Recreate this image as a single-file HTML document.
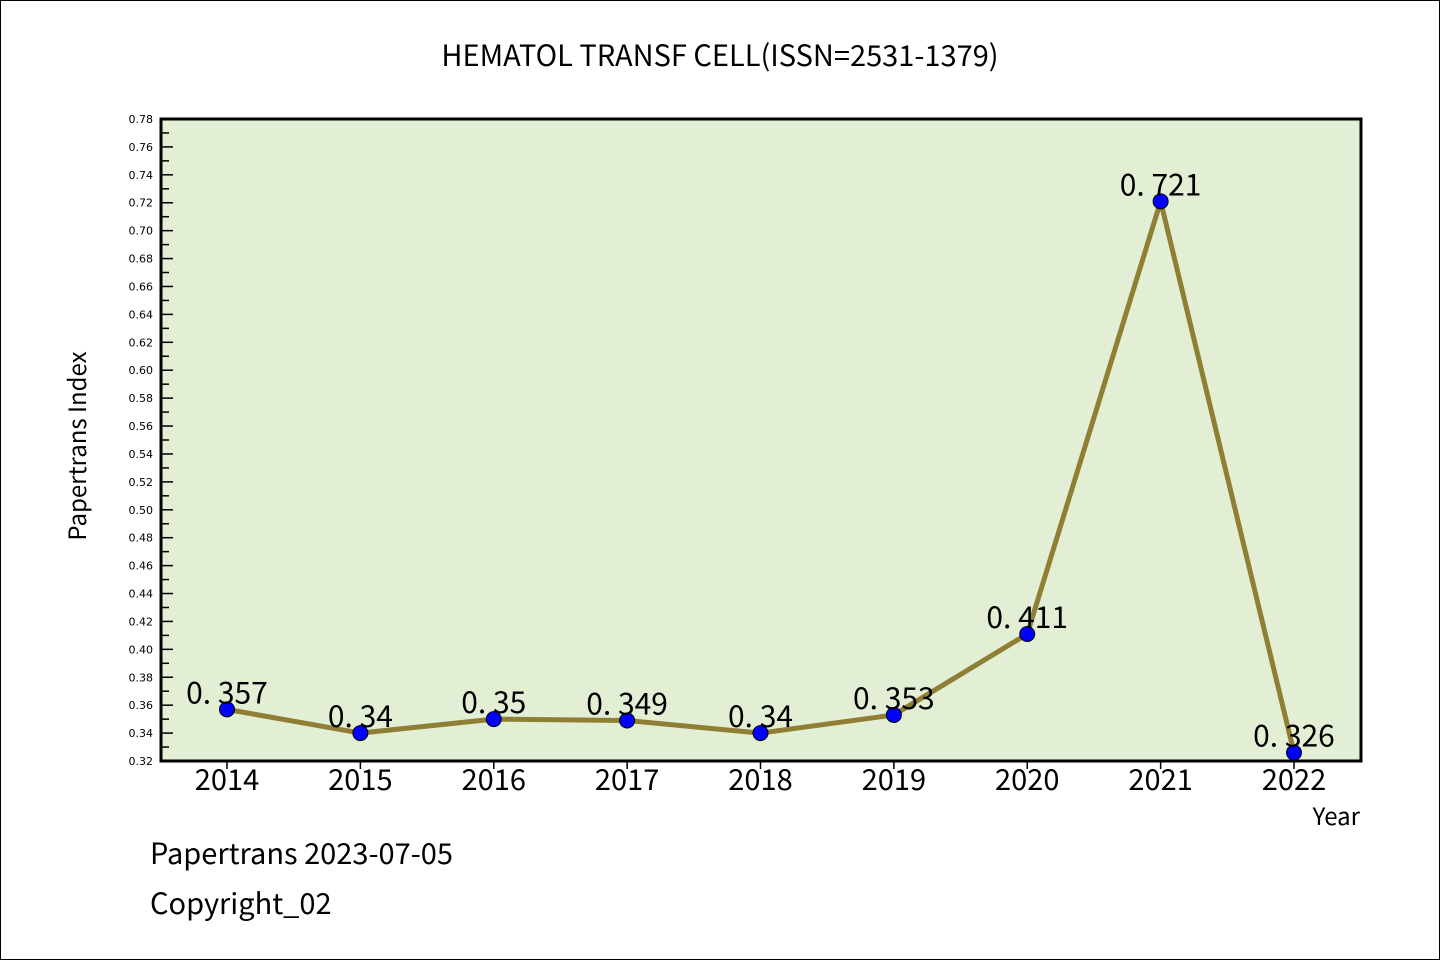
<!DOCTYPE html>
<html><head><meta charset="utf-8"><style>
body{margin:0;background:#fff}
svg text{font-family:"WenQuanYi Zen Hei","Noto Sans CJK SC",sans-serif}
</style></head><body>
<svg id="chart" width="1440" height="960" xmlns="http://www.w3.org/2000/svg">
<rect x="0.5" y="0.5" width="1439" height="959" fill="#fff" stroke="#000"/>
<text x="720" y="66" font-size="29" text-anchor="middle">HEMATOL TRANSF CELL(ISSN=2531-1379)</text>
<rect x="161" y="119" width="1200" height="642" fill="#e2efd5"/>
<g id="axes"></g>
<g id="series"></g>
<rect x="161" y="119" width="1200" height="642" fill="none" stroke="#000" stroke-width="3"/>
<text x="86" y="446" font-size="24" text-anchor="middle" transform="rotate(-90 86 446)">Papertrans Index</text>
<text x="1360" y="825" font-size="24" text-anchor="end">Year</text>
<text x="150" y="864" font-size="29">Papertrans 2023-07-05</text>
<text x="150" y="914" font-size="29">Copyright_02</text>
</svg>
<script>
const years=["2014","2015","2016","2017","2018","2019","2020","2021","2022"];
const values=[0.357,0.34,0.35,0.349,0.34,0.353,0.411,0.721,0.326];
const valueLabels=["0.357","0.34","0.35","0.349","0.34","0.353","0.411","0.721","0.326"];
const yMin=0.32,yMax=0.78;
const NS="http://www.w3.org/2000/svg";
const X0=161,X1=1361,Y0=119,Y1=761;
function xs(i){return 227+i*(1294-227)/(years.length-1);}
function ys(v){return Y1-(v-yMin)/(yMax-yMin)*(Y1-Y0);}
function mk(t,a,p){const e=document.createElementNS(NS,t);for(const k in a)e.setAttribute(k,a[k]);p.appendChild(e);return e;}
const ax=document.getElementById('axes');
for(let k=0;k<=Math.round((yMax-yMin)/0.01);k++){
  const v=yMin+k*0.01,y=ys(v),major=k%2===0;
  const l=mk('line',{x1:X0,x2:X0+(major?12:8),y1:y,y2:y,stroke:'#000','stroke-width':1.5},ax);
  
  
  if(major){const t=mk('text',{x:X0-8,y:y+4,'font-size':11,'text-anchor':'end',style:'font-family:"DejaVu Sans",sans-serif'},ax);t.textContent=v.toFixed(2);
  
  }
}
years.forEach((yr,i)=>{
  const x=xs(i);
  const l=mk('line',{x1:x,x2:x,y1:Y1,y2:Y1+8,stroke:'#000','stroke-width':1.5},ax);
  
  
  const t=mk('text',{x:x,y:Y1+29,'font-size':29,'text-anchor':'middle'},ax);t.textContent=yr;
  
  
});
const sg=document.getElementById('series');
const pl=mk('polyline',{points:values.map((v,i)=>xs(i)+','+ys(v)).join(' '),fill:'none',stroke:'#8f7f35','stroke-width':5,'stroke-linejoin':'round'},sg);


values.forEach((v,i)=>{
  const c=mk('circle',{cx:xs(i),cy:ys(v),r:7.5,fill:'#0000ff',stroke:'#000','stroke-width':1},sg);
  
  
  const t=mk('text',{x:xs(i),y:ys(v)-6,'font-size':30,'text-anchor':'middle'},sg);
  t.textContent=valueLabels[i].replace('.','. ');
  
  
});
</script>
</body></html>
